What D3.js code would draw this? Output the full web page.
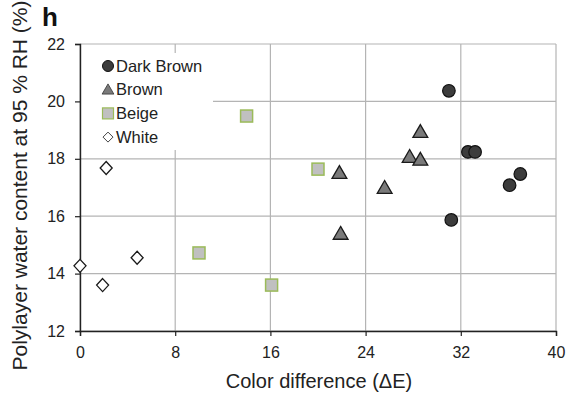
<!DOCTYPE html>
<html>
<head>
<meta charset="utf-8">
<script src="https://cdn.jsdelivr.net/npm/d3@7"></script>
<style>
  body { margin: 0; background: #fff; }
  text { font-family: "Liberation Sans", Arial, sans-serif; }
</style>
</head>
<body>
<div id="chart-area"></div>
<script>
// data
const seriesNames = ["Dark Brown", "Brown", "Beige", "White"];
const darkBrownX = [31.0, 32.6, 33.2, 37.0, 36.1, 31.2];
const darkBrownY = [20.37, 18.24, 18.24, 17.47, 17.08, 15.87];
const brownX = [28.6, 27.7, 28.6, 21.8, 25.6, 21.9];
const brownY = [18.93, 18.06, 17.96, 17.5, 16.98, 15.38];
const beigeX = [14.0, 20.0, 10.0, 16.1];
const beigeY = [19.49, 17.64, 14.72, 13.6];
const whiteX = [2.2, 0, 1.9, 4.8];
const whiteY = [17.68, 14.27, 13.6, 14.55];
const xTicks = [0, 8, 16, 24, 32, 40];
const yTicks = [12, 14, 16, 18, 20, 22];

const totalWidth = 570, totalHeight = 396;
const margin = {LEFT: 80, TOP: 44, RIGHT: 14, BOTTOM: 65},
      width = totalWidth - margin.LEFT - margin.RIGHT,
      height = totalHeight - margin.TOP - margin.BOTTOM;

let svg = d3.select("#chart-area").append("svg")
            .attr("width", totalWidth)
            .attr("height", totalHeight);

let g = svg.append("g")
           .attr("transform", `translate(${margin.LEFT}, ${margin.TOP})`);

var x = d3.scaleLinear().domain([0, 40]).range([0, width]),
    y = d3.scaleLinear().domain([12, 22]).range([height, 0]);

// grid
g.append("g").selectAll("line").data(yTicks).enter().append("line")
 .attr("x1", 0).attr("x2", width)
 .attr("y1", d => y(d)).attr("y2", d => y(d))
 .attr("stroke", "#b4b4b4").attr("stroke-width", 1.2);
g.append("g").selectAll("line").data(xTicks).enter().append("line")
 .attr("x1", d => x(d)).attr("x2", d => x(d))
 .attr("y1", 0).attr("y2", height)
 .attr("stroke", "#b4b4b4").attr("stroke-width", 1.2);

// legend background (covers the grid)
g.append("rect")
 .attr("x", 1).attr("y", 9).attr("width", 132).attr("height", 97)
 .attr("fill", "#fff");

// axes
var axisL = d3.axisLeft(y).tickValues(yTicks).tickSize(5).tickPadding(10);
var axisB = d3.axisBottom(x).tickValues(xTicks).tickSize(5).tickPadding(6);

let gy = g.append("g").call(axisL);
let gx = g.append("g").attr("transform", `translate(0,${height})`).call(axisB);
[gx, gy].forEach(a => {
  a.select(".domain").attr("stroke", "#222").attr("stroke-width", 1.4);
  a.selectAll(".tick line").attr("stroke", "#222").attr("stroke-width", 1.2);
  a.selectAll("text").attr("font-size", "16px").attr("fill", "#222")
   .attr("font-family", "Liberation Sans, Arial, sans-serif");
});
gx.selectAll("text").attr("y", 27).attr("dy", 0);

// markers
const triPath = d3.symbol().type(d3.symbolTriangle).size(95)();
const diaPath = "M0,-6.5L6,0L0,6.5L-6,0Z";

function drawCircles(xs, ys, sel) {
  sel.selectAll("circle").data(xs).enter().append("circle")
     .attr("cx", d => x(d)).attr("cy", (d, i) => y(ys[i])).attr("r", 6.3)
     .attr("fill", "#3c3c3c").attr("stroke", "#111").attr("stroke-width", 1.2);
}
function drawTris(xs, ys, sel) {
  sel.selectAll("path").data(xs).enter().append("path")
     .attr("d", triPath)
     .attr("transform", (d, i) => `translate(${x(d)},${y(ys[i]) + 1})`)
     .attr("fill", "#7a7a7a").attr("stroke", "#1a1a1a").attr("stroke-width", 1.3);
}
function drawSquares(xs, ys, sel) {
  sel.selectAll("rect").data(xs).enter().append("rect")
     .attr("x", d => x(d) - 6).attr("y", (d, i) => y(ys[i]) - 6)
     .attr("width", 12).attr("height", 12)
     .attr("fill", "#c0c0c0").attr("stroke", "#9bbb59").attr("stroke-width", 1.5);
}
function drawDiamonds(xs, ys, sel) {
  sel.selectAll("path").data(xs).enter().append("path")
     .attr("d", diaPath)
     .attr("transform", (d, i) => `translate(${x(d)},${y(ys[i])})`)
     .attr("fill", "#fff").attr("stroke", "#1a1a1a").attr("stroke-width", 1.3);
}

drawDiamonds(whiteX, whiteY, g.append("g"));
drawSquares(beigeX, beigeY, g.append("g"));
drawTris(brownX, brownY, g.append("g"));
drawCircles(darkBrownX, darkBrownY, g.append("g"));

// legend
let legend = g.append("g").attr("transform", "translate(28, 22)");
const legendStep = 23.7;
seriesNames.forEach(function(name, i) {
  let row = legend.append("g").attr("transform", `translate(0, ${i * legendStep})`);
  if (i == 0) row.append("circle").attr("r", 5.5).attr("fill", "#3c3c3c").attr("stroke", "#111");
  if (i == 1) row.append("path").attr("d", d3.symbol().type(d3.symbolTriangle).size(60)())
                 .attr("transform", "translate(0,1)")
                 .attr("fill", "#7a7a7a").attr("stroke", "#333").attr("stroke-width", 0.8);
  if (i == 2) row.append("rect").attr("x", -5.5).attr("y", -5.5).attr("width", 11).attr("height", 11)
                 .attr("fill", "#c0c0c0").attr("stroke", "#9bbb59").attr("stroke-width", 1.2);
  if (i == 3) row.append("path").attr("d", "M0,-5L5,0L0,5L-5,0Z")
                 .attr("fill", "#fff").attr("stroke", "#444").attr("stroke-width", 1);
  row.append("text").attr("x", 8).attr("y", 0).attr("dy", "0.35em")
     .attr("font-size", "16.5px").attr("fill", "#222").text(name);
});

// labels
svg.append("text")
   .attr("x", 319).attr("y", 388)
   .attr("font-size", "20px").attr("text-anchor", "middle").attr("fill", "#222")
   .text("Color difference (\u0394E)");
svg.append("text")
   .attr("transform", "translate(27, 185.5) rotate(-90)")
   .attr("font-size", "21px").attr("text-anchor", "middle").attr("fill", "#222")
   .text("Polylayer water content at 95 % RH (%)");
svg.append("text")
   .attr("x", 42).attr("y", 26)
   .attr("font-size", "26px").attr("font-weight", "bold").attr("fill", "#111")
   .text("h");
</script>
</body>
</html>
